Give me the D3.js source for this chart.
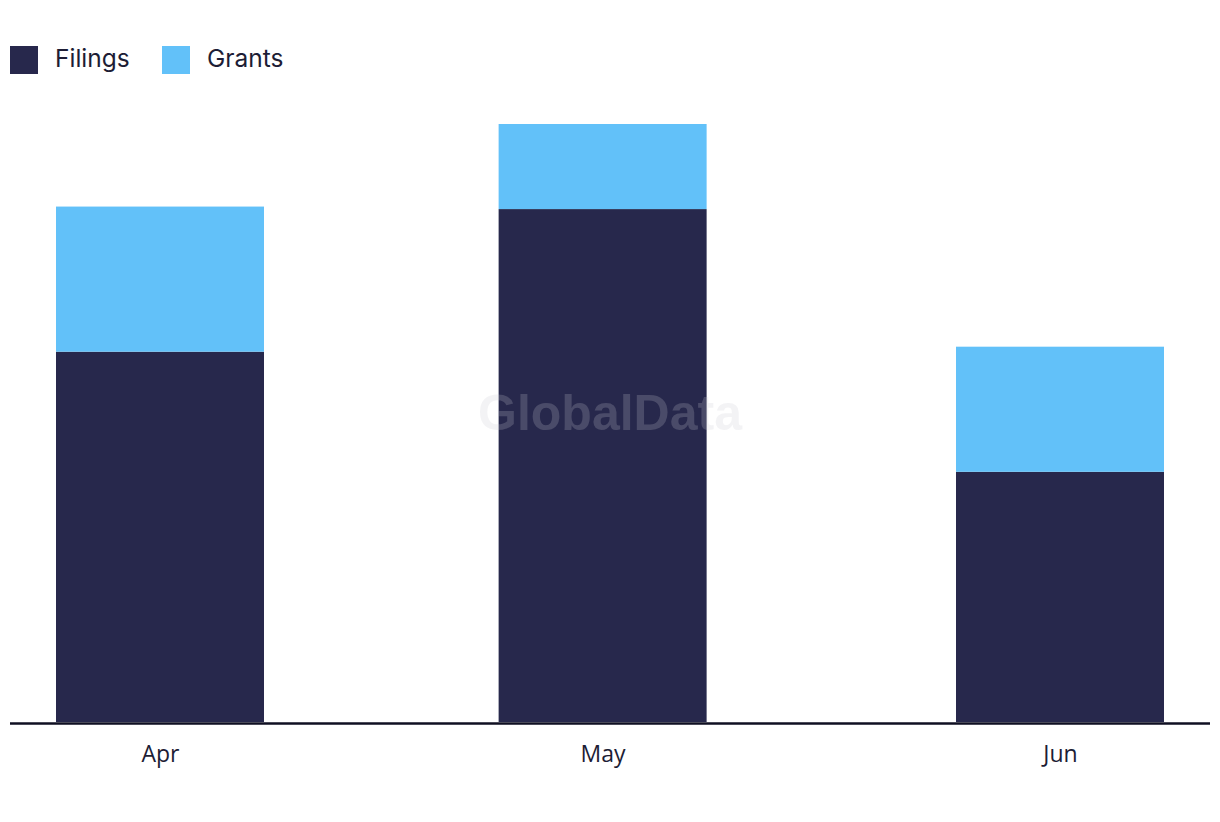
<!DOCTYPE html>
<html>
<head>
<meta charset="utf-8">
<script src="https://cdn.jsdelivr.net/npm/d3@7"></script>
<style>
  body { margin: 0; background: #fff; }
  svg { display: block; }
</style>
</head>
<body>
<svg id="chart" width="1220" height="822"></svg>
<script>
// data
const months = ["2023-04-01", "2023-05-01", "2023-06-01"];
const monthLabels = ["Apr", "May", "Jun"];
const filings = [148, 205, 100];
const grants = [58, 34, 50];
const seriesNames = ["Filings", "Grants"];
const seriesColors = ["#27284c", "#62c1f9"];

const svg = d3.select("#chart");
const parse = d3.timeParse("%Y-%m-%d");
const dates = months.map(parse);

const rows = dates.map((d, i) => ({ date: d, Filings: filings[i], Grants: grants[i] }));
const stack = d3.stack().keys(seriesNames)(rows);

const baseY = 722;
const xScale = d3.scaleTime()
  .domain([dates[0], dates[dates.length - 1]])
  .range([160, 1060]);
const yScale = d3.scaleLinear()
  .domain([0, d3.max(rows, (d) => d.Filings + d.Grants)])
  .range([baseY, 124]);
const barW = 208;

// bars
svg.append("g")
  .selectAll("g")
  .data(stack)
  .join("g")
  .attr("fill", (d, i) => seriesColors[i])
  .selectAll("rect")
  .data((d) => d)
  .join("rect")
  .attr("x", (d) => xScale(d.data.date) - barW / 2)
  .attr("width", barW)
  .attr("y", (d) => yScale(d[1]))
  .attr("height", (d) => yScale(d[0]) - yScale(d[1]));

// watermark
svg.append("text")
  .attr("x", 610)
  .attr("y", 430)
  .attr("text-anchor", "middle")
  .attr("font-family", "Liberation Sans, Arial, sans-serif")
  .attr("font-weight", "bold")
  .attr("font-size", 50)
  .attr("fill", "#c8c8d2")
  .attr("fill-opacity", 0.22)
  .text("GlobalData");

// x axis
const xAxis = svg.append("g")
  .attr("transform", `translate(0,${baseY})`)
  .call(d3.axisBottom(xScale)
    .tickValues(dates)
    .tickSize(0)
    .tickPadding(24)
    .tickFormat((d, i) => monthLabels[i]));
xAxis.select(".domain").remove();
xAxis.selectAll("text")
  .attr("font-family", "Open Sans, sans-serif")
  .attr("font-size", 23)
  .attr("fill", "#1d1d35");
svg.append("line")
  .attr("x1", 10).attr("x2", 1210)
  .attr("y1", baseY + 1.5).attr("y2", baseY + 1.5)
  .attr("stroke", "#0f0f22")
  .attr("stroke-width", 2.5);

// legend
const legend = svg.append("g").attr("transform", "translate(10,46)");
const legendX = [0, 152];
seriesNames.forEach((name, i) => {
  const g = legend.append("g").attr("transform", `translate(${legendX[i]},0)`);
  g.append("rect").attr("width", 28).attr("height", 28).attr("fill", seriesColors[i]);
  g.append("text")
    .attr("x", 45)
    .attr("y", 21)
    .attr("font-family", "Inter, sans-serif")
    .attr("font-size", 24.5)
    .attr("fill", "#1d1d35")
    .text(name);
});
</script>
</body>
</html>
